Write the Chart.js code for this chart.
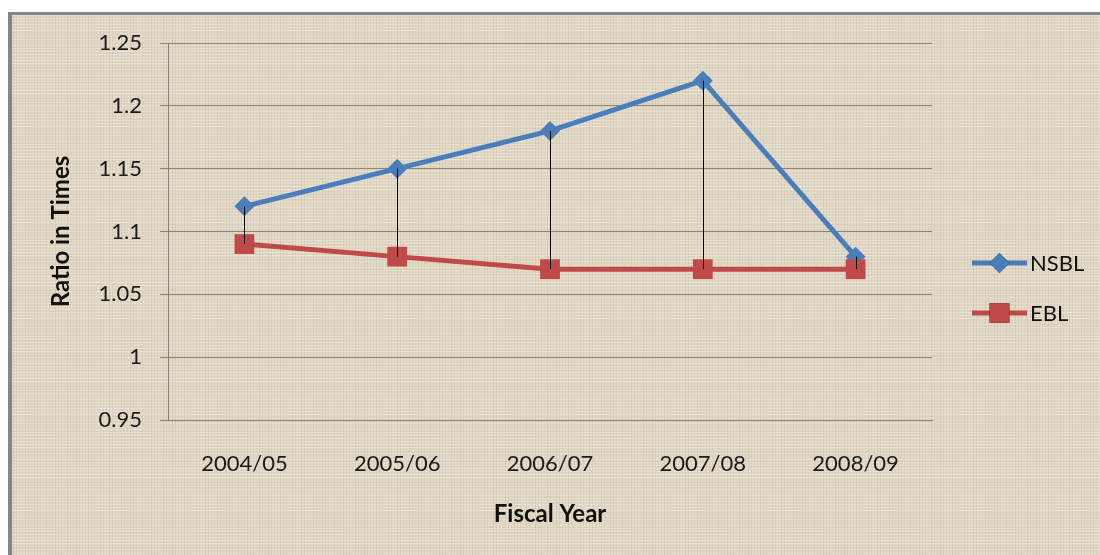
<!DOCTYPE html>
<html>
<head>
<meta charset="utf-8">
<script src="https://cdn.jsdelivr.net/npm/chart.js@4.4.1/dist/chart.umd.min.js"></script>
<style>
  html, body { margin: 0; padding: 0; background: #fff; }
  #wrap { width: 1100px; height: 555px; position: relative; }
</style>
</head>
<body>
<div id="wrap"><canvas id="ratioChart" width="1100" height="555"></canvas></div>
<script>
// data
const fiscalYears = ['2004/05', '2005/06', '2006/07', '2007/08', '2008/09'];
const nsblRatio = [1.12, 1.15, 1.18, 1.22, 1.08];
const eblRatio = [1.09, 1.08, 1.07, 1.07, 1.07];
const yTicks = [0.95, 1, 1.05, 1.1, 1.15, 1.2, 1.25];

const FONT = 'Lato, "Open Sans", sans-serif';
const BLUE = '#4a7ebb';
const RED = '#be4b48';

// linen-ish texture, deterministic
const makeTexture = () => {
  const c = document.createElement('canvas');
  c.width = 96; c.height = 96;
  const g = c.getContext('2d');
  g.fillStyle = '#e0d7c4';
  g.fillRect(0, 0, 96, 96);
  for (let i = 0; i < 96; i += 3) {
    const a = ((i * 37) % 11) / 11;
    g.fillStyle = `rgba(250,246,234,${0.2 + a * 0.3})`;
    g.fillRect(0, i, 96, 1);
    g.fillStyle = `rgba(150,138,115,${0.06 + ((i * 53) % 7) / 7 * 0.14})`;
    g.fillRect(i + 1, 0, 1, 96);
  }
  for (let i = 0; i < 96; i += 5) {
    g.fillStyle = `rgba(140,128,105,${0.05 + ((i * 29) % 5) / 5 * 0.1})`;
    g.fillRect(0, i + 2, 96, 1);
  }
  return c;
};

const backgroundPlugin = {
  id: 'paper',
  beforeDraw(chart) {
    const { ctx, width, height } = chart;
    ctx.save();
    ctx.fillStyle = '#ffffff';
    ctx.fillRect(0, 0, width, height);
    ctx.fillStyle = ctx.createPattern(makeTexture(), 'repeat');
    ctx.fillRect(12, 15, width - 12, height - 15);
    ctx.fillStyle = '#858585';
    ctx.fillRect(8, 12, 4, height - 12);
    ctx.fillRect(8, 12, width - 8, 3);
    ctx.restore();
  }
};

// high-low lines between the two series
const dropLinesPlugin = {
  id: 'dropLines',
  afterDatasetsDraw(chart) {
    const { ctx } = chart;
    const a = chart.getDatasetMeta(0).data;
    const b = chart.getDatasetMeta(1).data;
    ctx.save();
    ctx.strokeStyle = '#000';
    ctx.lineWidth = 1;
    a.forEach((p, i) => {
      const x = Math.round(p.x) + 0.5;
      ctx.beginPath();
      ctx.moveTo(x, p.y);
      ctx.lineTo(x, b[i].y);
      ctx.stroke();
    });
    ctx.restore();
  }
};

// Excel style legend: line with marker in the middle
const legendPlugin = {
  id: 'sideLegend',
  afterDraw(chart) {
    const { ctx } = chart;
    const x0 = 972, x1 = 1027;
    const rows = [263, 313];
    ctx.save();
    chart.data.datasets.forEach((ds, i) => {
      const y = rows[i];
      ctx.strokeStyle = ds.borderColor;
      ctx.lineWidth = 5;
      ctx.beginPath();
      ctx.moveTo(x0, y);
      ctx.lineTo(x1, y);
      ctx.stroke();
      Chart.helpers.drawPoint(ctx, {
        pointStyle: ds.pointStyle,
        radius: ds.pointRadius,
        borderWidth: 0
      }, (x0 + x1) / 2, y);
      ctx.fillStyle = ds.borderColor;
      ctx.fill();
      ctx.fillStyle = '#111';
      ctx.font = `22px ${FONT}`;
      ctx.textBaseline = 'middle';
      ctx.fillText(ds.label, x1 + 3, y + 1);
    });
    ctx.restore();
  }
};

const ctx = document.getElementById('ratioChart').getContext('2d');
new Chart(ctx, {
  type: 'line',
  data: {
    labels: fiscalYears,
    datasets: [
      {
        label: 'NSBL',
        data: nsblRatio,
        borderColor: BLUE,
        backgroundColor: BLUE,
        borderWidth: 5,
        pointStyle: 'rectRot',
        pointRadius: 10,
        pointBorderWidth: 0,
        tension: 0,
        order: 1
      },
      {
        label: 'EBL',
        data: eblRatio,
        borderColor: RED,
        backgroundColor: RED,
        borderWidth: 5,
        pointStyle: 'rect',
        pointRadius: 14,
        pointBorderWidth: 0,
        tension: 0,
        order: 0
      }
    ]
  },
  options: {
    responsive: false,
    animation: false,
    layout: { padding: { left: 0, top: 43, right: 168, bottom: 0 } },
    plugins: {
      legend: { display: false },
      tooltip: { enabled: false }
    },
    scales: {
      x: {
        offset: true,
        afterFit: (scale) => { scale.height = 135; },
        grid: { display: false, drawTicks: false },
        border: { display: true, color: '#8a8476', width: 1 },
        ticks: { color: '#1a1a1a', font: { family: FONT, size: 22 }, padding: 31, maxRotation: 0 },
        title: {
          display: true,
          text: 'Fiscal Year',
          color: '#111',
          font: { family: FONT, size: 24, weight: 'bold' },
          padding: { top: 0, bottom: 26 }
        }
      },
      y: {
        min: 0.95,
        max: 1.25,
        afterFit: (scale) => { scale.width = 168; },
        afterBuildTicks: (scale) => { scale.ticks = yTicks.map(v => ({ value: v })); },
        grid: { color: '#8a8476', lineWidth: 1, tickLength: 8, drawTicks: true },
        border: { display: true, color: '#8a8476', width: 1 },
        ticks: {
          color: '#1a1a1a',
          font: { family: FONT, size: 22 },
          padding: 18,
          callback: (v) => String(+v.toFixed(2))
        },
        title: {
          display: true,
          text: 'Ratio in Times',
          color: '#111',
          font: { family: FONT, size: 24, weight: 'bold' },
          padding: { top: 47, bottom: 0 }
        }
      }
    }
  },
  plugins: [backgroundPlugin, dropLinesPlugin, legendPlugin]
});
</script>
</body>
</html>
